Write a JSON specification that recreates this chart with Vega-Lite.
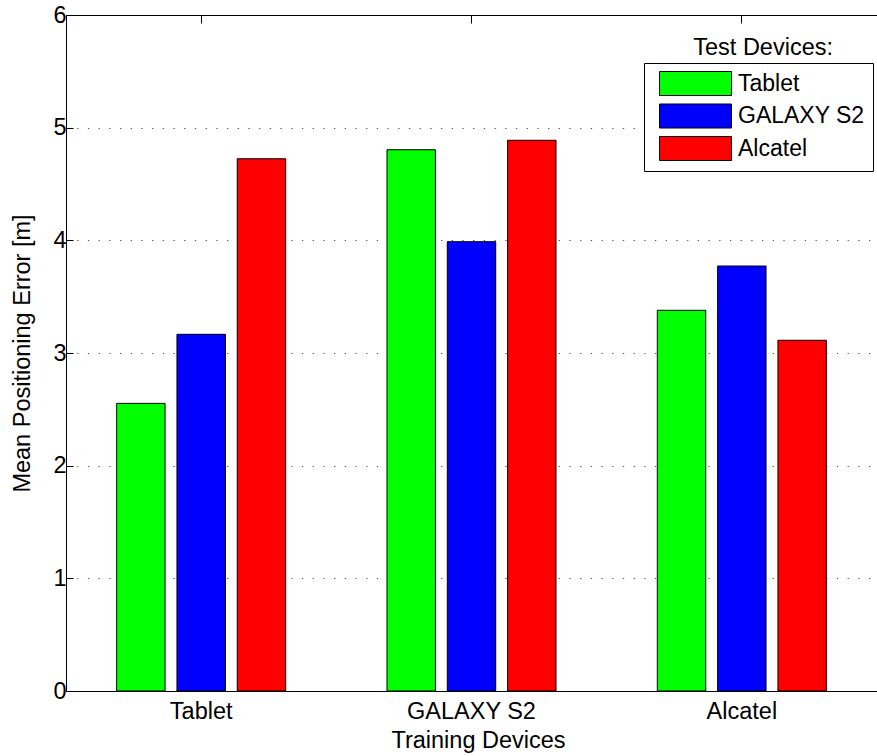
{
  "$schema": "https://vega.github.io/schema/vega-lite/v6.json",
  "width": 811,
  "height": 676,
  "autosize": {"type": "none"},
  "padding": {"left": 66, "top": 15, "right": 0, "bottom": 65},
  "background": "white",
  "config": {
    "view": {"stroke": null},
    "font": "Liberation Sans",
    "axis": {"labelFont": "Liberation Sans", "titleFont": "Liberation Sans", "labelFontSize": 23.5, "titleFontSize": 23.5, "labelColor": "black", "titleColor": "black", "titleFontWeight": "normal", "domainColor": "black", "tickColor": "black", "domainWidth": 1, "tickWidth": 1}
  },
  "title": {
    "text": "Test Devices:",
    "orient": "top",
    "anchor": "end",
    "frame": "group",
    "offset": -39,
    "baseline": "alphabetic",
    "dx": -44,
    "dy": 36,
    "font": "Liberation Sans",
    "fontSize": 23.5,
    "fontWeight": "normal",
    "color": "black"
  },
  "data": {
    "values": [
      {"training": "Tablet", "test": "Tablet", "error": 2.553},
      {"training": "Tablet", "test": "GALAXY S2", "error": 3.166},
      {"training": "Tablet", "test": "Alcatel", "error": 4.724},
      {"training": "GALAXY S2", "test": "Tablet", "error": 4.804},
      {"training": "GALAXY S2", "test": "GALAXY S2", "error": 3.988},
      {"training": "GALAXY S2", "test": "Alcatel", "error": 4.888},
      {"training": "Alcatel", "test": "Tablet", "error": 3.379},
      {"training": "Alcatel", "test": "GALAXY S2", "error": 3.772},
      {"training": "Alcatel", "test": "Alcatel", "error": 3.113}
    ]
  },
  "layer": [
    {
      "mark": {"type": "bar", "stroke": "black", "strokeWidth": 1},
      "encoding": {
        "x": {
          "field": "training",
          "type": "nominal",
          "sort": ["Tablet", "GALAXY S2", "Alcatel"],
          "scale": {"paddingInner": 0, "paddingOuter": -0.0174, "align": 0},
          "axis": {
            "title": "Training Devices",
            "labelAngle": 0,
            "tickSize": -8,
            "labelPadding": 16,
            "titleX": 412,
            "titleY": 56,
            "titleBaseline": "alphabetic",
            "titleAnchor": null,
            "grid": false
          }
        },
        "xOffset": {
          "field": "test",
          "type": "nominal",
          "sort": ["Tablet", "GALAXY S2", "Alcatel"],
          "scale": {"paddingInner": 0.197, "paddingOuter": 0.84}
        },
        "y": {
          "field": "error",
          "type": "quantitative",
          "scale": {"domain": [0, 6], "nice": false, "zero": true},
          "axis": {
            "title": "Mean Positioning Error [m]",
            "values": [0, 1, 2, 3, 4, 5, 6],
            "tickSize": -7,
            "labelPadding": 7,
            "grid": true,
            "gridColor": "#555555",
            "gridDash": [1.3, 9.4],
            "gridWidth": 1,
            "titleX": -37,
            "titleY": 338,
            "titleAngle": -90,
            "titleBaseline": "alphabetic",
            "titleAlign": "center",
            "titleAnchor": null
          }
        },
        "color": {
          "field": "test",
          "type": "nominal",
          "sort": ["Tablet", "GALAXY S2", "Alcatel"],
          "scale": {"domain": ["Tablet", "GALAXY S2", "Alcatel"], "range": ["#00ff00", "#0000ff", "#ff0000"]},
          "legend": {
            "title": null,
            "orient": "none",
            "legendX": 578,
            "legendY": 48,
            "padding": 8,
            "fillColor": "white",
            "strokeColor": "black",
            "symbolType": "M-1,-1H5V1H-1Z",
            "symbolSize": 576,
            "symbolStrokeColor": "black",
            "symbolStrokeWidth": 1,
            "symbolOpacity": 1,
            "symbolOffset": 7,
            "labelOffset": 54,
            "labelFont": "Liberation Sans",
            "labelFontSize": 23,
            "labelColor": "black",
            "labelLimit": 300,
            "rowPadding": 3.5
          }
        }
      }
    },
    {
      "mark": {"type": "rule", "strokeOpacity": 0},
      "encoding": {
        "x": {
          "field": "training",
          "type": "nominal",
          "sort": ["Tablet", "GALAXY S2", "Alcatel"],
          "axis": {"orient": "top", "labels": false, "title": null, "tickSize": -8, "grid": false}
        }
      }
    }
  ],
  "resolve": {"axis": {"x": "independent"}}
}
